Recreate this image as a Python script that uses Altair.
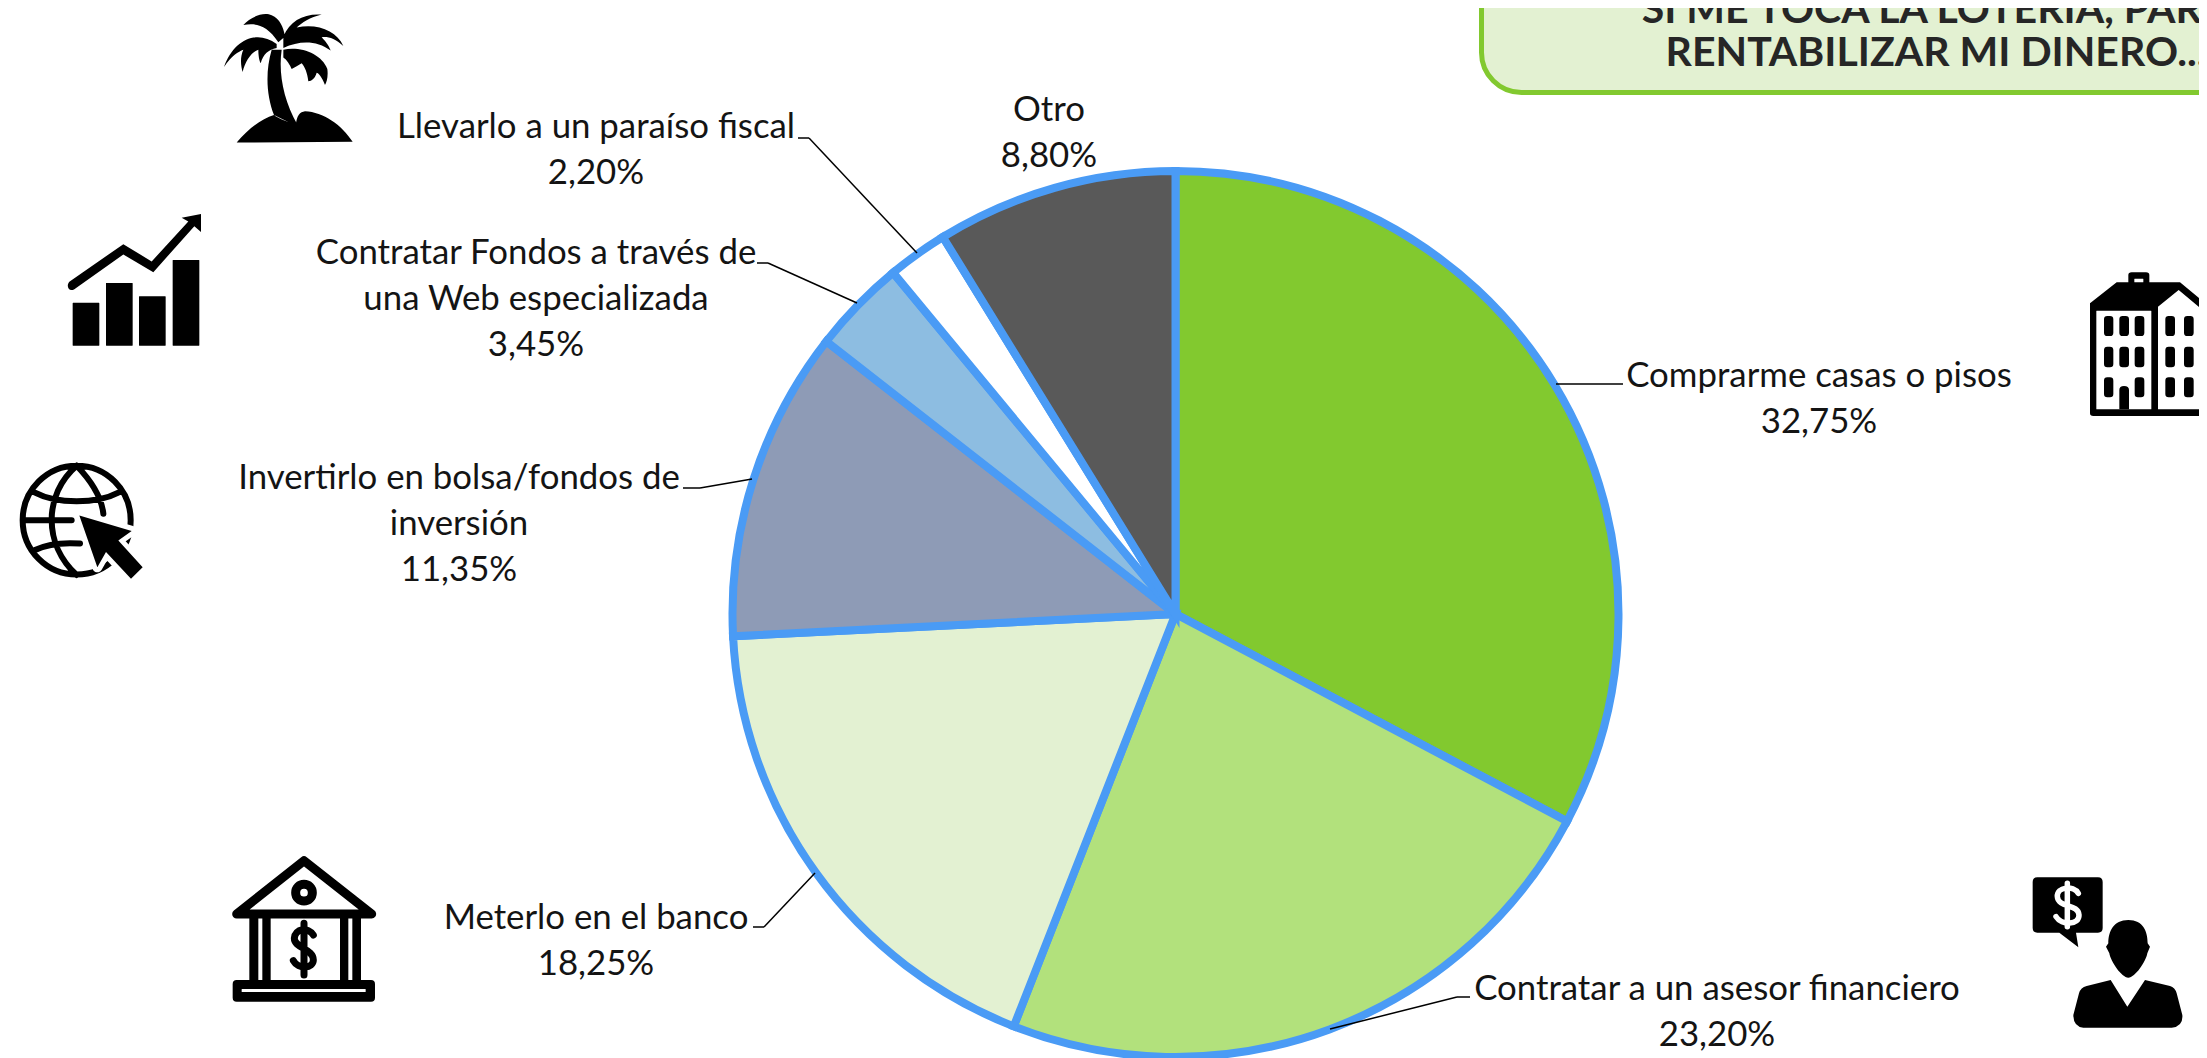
import math
import re
import altair as alt
import pandas as pd

CATEGORIAS = [
    "Comprarme casas o pisos",
    "Contratar a un asesor financiero",
    "Meterlo en el banco",
    "Invertirlo en bolsa/fondos de inversión",
    "Contratar Fondos a través de una Web especializada",
    "Llevarlo a un paraíso fiscal",
    "Otro",
]
VALORES = [32.75, 23.20, 18.25, 11.35, 3.45, 2.20, 8.80]
COLORES = ["#82C92F", "#B2E17C", "#E3F1D2", "#8E9BB6", "#8DBDE1", "#FFFFFF", "#595959"]
ETIQUETAS = [
    "Comprarme casas o pisos\n32,75%",
    "Contratar a un asesor financiero\n23,20%",
    "Meterlo en el banco\n18,25%",
    "Invertirlo en bolsa/fondos de\ninversión\n11,35%",
    "Contratar Fondos a través de\nuna Web especializada\n3,45%",
    "Llevarlo a un paraíso fiscal\n2,20%",
    "Otro\n8,80%",
]
TITULO = "SI ME TOCA LA LOTERÍA, PARA\nRENTABILIZAR MI DINERO..."

M = 8  # page margin
FONT = "Lato"
FS = 34.8
LH = 46
# first-line centre of each label
ETIQ_POS = [(1819, 376.5), (1717, 989.5), (596, 918.5), (459, 478.5), (536, 253.5), (596, 127.5), (1049, 110.5)]
LEADERS = [
    [(1556, 384), (1623, 384)],
    [(1330, 1029), (1457, 997), (1470, 997)],
    [(815, 873), (764, 927), (753, 927)],
    [(752, 479), (700, 488), (683, 488)],
    [(857, 303), (768, 263), (757, 263)],
    [(917, 253), (809, 138), (798, 138)],
]

df = pd.DataFrame({"categoria": CATEGORIAS, "valor": VALORES, "orden": range(len(VALORES)), "etiqueta": ETIQUETAS})
uno = pd.DataFrame({"k": [1]})

layers = []

# Title box
layers.append(
    alt.Chart(uno).mark_rect(fill="#E3F1D2", stroke="#82C92F", strokeWidth=5, cornerRadius=40).encode(
        x=alt.value(1481.5 - M), x2=alt.value(2300), y=alt.value(-80), y2=alt.value(92.5 - M)
    )
)
layers.append(
    alt.Chart(pd.DataFrame({"t": [TITULO]})).mark_text(
        font=FONT, fontSize=41, fontWeight="bold", color="#262626", lineBreak="\n", lineHeight=43,
        align="center", baseline="middle",
    ).encode(text="t:N", x=alt.value(1936 - M), y=alt.value(11 - M))
)

# Pie
layers.append(
    alt.Chart(df).mark_arc(radius=443, stroke="#4A9BF5", strokeWidth=8).encode(
        theta=alt.Theta("valor:Q", stack=True, scale=alt.Scale(domain=[0, 100], range=[0, 2 * math.pi])),
        color=alt.Color("categoria:N", scale=alt.Scale(domain=CATEGORIAS, range=COLORES), legend=None),
        order=alt.Order("orden:Q"),
        x=alt.value(1175.5 - M),
        y=alt.value(614 - M),
    )
)

# Leaders
for pts in LEADERS:
    for (x0, y0), (x1, y1) in zip(pts[:-1], pts[1:]):
        layers.append(
            alt.Chart(uno).mark_rule(color="#000000", strokeWidth=1.5).encode(
                x=alt.value(x0 - M), x2=alt.value(x1 - M), y=alt.value(y0 - M), y2=alt.value(y1 - M)
            )
        )

# Labels
for i, (cx, cy) in enumerate(ETIQ_POS):
    layers.append(
        alt.Chart(df.iloc[[i]]).mark_text(
            font=FONT, fontSize=FS, color="#141414", lineBreak="\n", lineHeight=LH, align="center", baseline="middle"
        ).encode(text="etiqueta:N", x=alt.value(cx - M), y=alt.value(cy - M))
    )


def rr(x0, y0, x1, y1, r):
    return (
        f"M{x0+r},{y0} L{x1-r},{y0} Q{x1},{y0} {x1},{y0+r} L{x1},{y1-r} Q{x1},{y1} {x1-r},{y1} "
        f"L{x0+r},{y1} Q{x0},{y1} {x0},{y1-r} L{x0},{y0+r} Q{x0},{y0} {x0+r},{y0} Z"
    )


def ajusta_y(path, f=1.15):
    return re.sub(r"(-?\d+(?:\.\d+)?),(-?\d+(?:\.\d+)?)", lambda m: f"{m.group(1)},{float(m.group(2)) * f:.1f}", path)


def icono(ox, oy, path, color="#000000", stroke=None, relleno=True):
    kw = dict(shape=path, size=4 / 9, opacity=1)
    if relleno:
        kw.update(filled=True, fill=color, strokeWidth=stroke or 0)
        if stroke:
            kw.update(stroke=color, strokeJoin="round", strokeCap="round")
    else:
        kw.update(filled=False, stroke=color, strokeWidth=stroke, strokeJoin="round", strokeCap="round")
    layers.append(alt.Chart(uno).mark_point(**kw).encode(x=alt.value(ox - M), y=alt.value(oy - M)))


# Palm
icono(0, 0, ajusta_y(" ".join([
    "M710,372 C745,335 785,310 822,300 C835,310 870,320 888,325 C890,300 900,292 915,290 C970,292 1025,325 1058,370 Z",
    "M822,300 C800,250 795,190 815,130 L845,130 C835,190 850,260 892,325 L880,325 Z",
    "M830,115 C770,75 700,105 672,175 C695,145 715,135 730,130 C720,150 722,170 728,188 C735,160 755,135 775,130 C775,145 778,160 782,165 C790,140 805,130 830,125 Z",
    "M835,110 C800,65 770,60 730,65 C750,45 790,30 815,40 C840,50 850,70 855,95 Z",
    "M850,95 C870,55 910,35 965,38 C930,45 905,60 890,72 C950,60 1010,80 1030,120 C1005,100 985,95 965,97 C980,110 990,125 992,132 C950,105 900,105 850,125 Z",
    "M850,130 C900,120 965,140 982,180 C985,200 980,215 975,222 C965,200 955,190 950,190 C945,205 935,212 925,212 C922,190 915,175 905,165 C895,170 885,175 875,180 C870,170 860,155 850,150 Z",
])))

# Chart icon
icono(0, 0, ajusta_y(" ".join(rr(a, b, c, 902, 1) for a, b, c in [(218, 790, 298), (318, 738, 398), (417, 773, 497), (518, 678, 598)])))
icono(0, 0, ajusta_y("M208,735 L370,637 L455,682 L565,578 L545,568 L603,558 L603,605 L583,590 L460,710 L370,664 L222,755 C205,762 198,745 208,735 Z"))

# Globe
icono(0, 0, ajusta_y(" ".join([
    "M68,1357 A162,142 0 1 1 392,1357 A162,142 0 1 1 68,1357",
    "M230,1215 C130,1290 130,1420 230,1500",
    "M230,1215 C280,1260 305,1300 310,1340",
    "M105,1285 C170,1315 290,1315 355,1285",
    "M68,1357 L215,1357",
    "M105,1435 C140,1420 190,1415 240,1418",
])), stroke=6, relleno=False)
CURSOR = ajusta_y("M238,1345 L395,1385 L355,1410 L428,1480 L393,1510 L318,1440 L292,1480 Z")
icono(0, 0, CURSOR, color="#FFFFFF", stroke=10)
icono(0, 0, CURSOR)

# Building
ox, oy = 1980, 250
icono(ox, oy, "M330,160 L410,97 L445,97 L445,75 Q445,67 455,67 L498,67 Q508,67 508,75 L508,97 L600,97 L677,160 L677,490 Q677,498 668,498 L340,498 Q330,498 330,490 Z")
icono(ox, oy, " ".join([
    rr(463, 86, 490, 97, 1), rr(349, 182, 514, 478, 1),
    "M534,170 L596,120 L658,172 L658,478 L534,478 Z",
]), color="#FFFFFF")
ventanas = []
for yy0, yy1 in [(198, 258), (290, 352), (382, 442)]:
    for xx0, xx1 in [(372, 400), (464, 493), (556, 585), (612, 641)]:
        ventanas.append(rr(xx0, yy0, xx1, yy1, 10))
for yy0, yy1 in [(198, 258), (290, 352)]:
    ventanas.append(rr(418, yy0, 447, yy1, 10))
ventanas.append("M418,478 L418,420 Q418,408 432,408 Q447,408 447,420 L447,478 Z")
icono(ox, oy, " ".join(ventanas))

# Adviser
ox, oy = 1980, 850
icono(ox, oy, " ".join([
    "M172,82 L354,82 Q368,82 368,96 L368,234 Q368,248 354,248 L288,248 L295,292 L238,248 L172,248 Q158,248 158,234 L158,96 Q158,82 172,82 Z",
    "M445,210 C400,210 385,245 385,280 L378,290 L388,310 C392,335 425,383 445,383 C465,383 498,335 502,310 L510,290 L503,280 C503,245 490,210 445,210 Z",
    "M392,390 L442,470 L495,390 L570,408 Q585,412 590,430 L607,495 Q610,530 575,533 L310,533 Q280,530 280,495 L297,430 Q302,412 320,408 Z",
]))
icono(ox, oy, "M295,130 C280,105 230,110 232,140 C234,175 295,160 297,195 C298,225 245,228 228,200 M262,100 L262,230", color="#FFFFFF", stroke=5.5, relleno=False)

# Bank
ox, oy = 200, 840
icono(ox, oy, "M110,222 L312,62 L515,222 Z M287,158 A25,25 0 1 1 337,158 A25,25 0 1 1 287,158", stroke=9, relleno=False)
icono(ox, oy, " ".join([rr(a, 230, b, 430, 1) for a, b in [(148, 175), (187, 212), (420, 445), (457, 483)]] + [rr(98, 420, 525, 485, 12)]))
icono(ox, oy, rr(125, 447, 497, 456, 1), color="#FFFFFF")
icono(ox, oy, "M340,285 C325,260 285,265 283,295 C283,325 340,325 340,360 C340,385 295,390 280,362 M312,250 L312,405", stroke=7, relleno=False)

chart = alt.layer(*layers).properties(
    width=2191, height=1050, autosize=alt.AutoSizeParams(type="none"), padding=0
).configure_view(strokeWidth=0)

chart.save("out.html", embed_options={"renderer": "svg", "actions": False})
